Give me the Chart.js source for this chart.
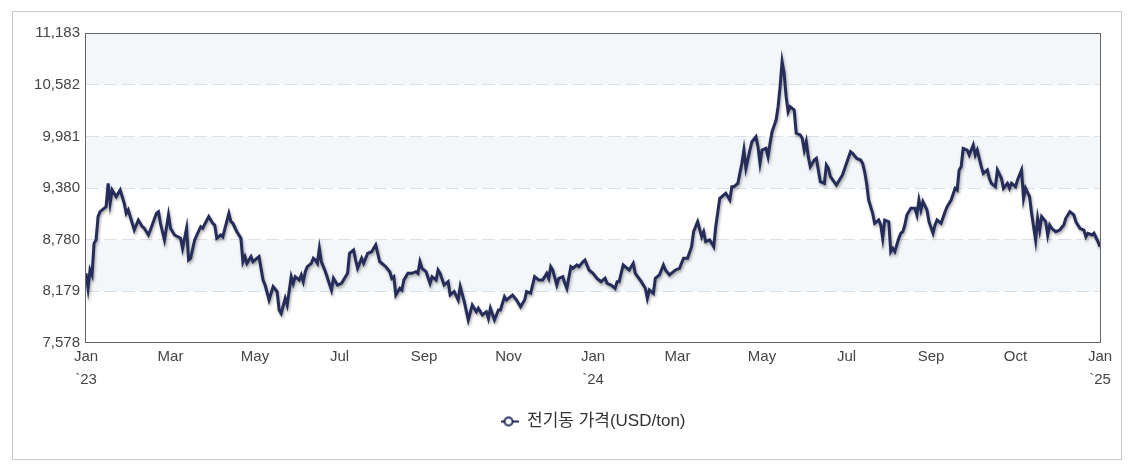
<!DOCTYPE html>
<html>
<head>
<meta charset="utf-8">
<title>전기동 가격</title>
<style>
html, body { margin: 0; padding: 0; background: #fff; }
#wrap { width: 1136px; height: 476px; position: relative; }
</style>
</head>
<body>
<div id="wrap"><canvas id="chart"></canvas></div>
<script src="https://cdn.jsdelivr.net/npm/chart.js@4.4.1/dist/chart.umd.min.js"></script>
<script>
// x labels: one every 42 trading days
const xLabels = [['Jan', '`23'], 'Mar', 'May', 'Jul', 'Sep', 'Nov', ['Jan', '`24'], 'Mar', 'May', 'Jul', 'Sep', 'Oct', ['Jan', '`25']];
const daysPerLabel = 42;
const yTicks = [7578, 8179, 8780, 9380, 9981, 10582, 11183];
const seriesName = '전기동 가격(USD/ton)';

// trading day index and copper price (USD/ton)
const tradingDay = [
  0, 1, 2, 3, 4, 5, 6, 7, 9, 10, 11, 12, 13, 15, 17, 19, 20, 21, 24, 26, 28, 29, 31, 32, 35, 36, 37, 39, 41, 42,
  44, 47, 48, 50, 51, 52, 54, 57, 58, 61, 63, 64, 65, 67, 68, 71, 72, 73, 75, 77, 78, 79, 80, 82, 83, 86, 88, 89, 91, 93,
  95, 96, 97, 99, 100, 102, 103, 104, 106, 107, 108, 109, 110, 112, 113, 114, 115, 116, 117, 119, 122, 123, 125, 127, 128, 130, 131, 133, 134, 135,
  137, 138, 140, 142, 143, 144, 146, 147, 149, 151, 152, 153, 154, 156, 157, 158, 160, 162, 164, 165, 166, 167, 169, 171, 172, 174, 175, 176, 178, 180,
  181, 183, 185, 186, 188, 190, 192, 194, 195, 197, 199, 200, 201, 203, 205, 206, 208, 209, 212, 214, 216, 218, 219, 221, 223, 225, 227, 229, 230, 231,
  232, 234, 235, 237, 238, 239, 241, 242, 244, 245, 247, 248, 250, 252, 254, 256, 258, 259, 261, 263, 264, 265, 267, 268, 270, 272, 273, 276, 278, 279,
  280, 282, 283, 285, 287, 288, 290, 292, 293, 295, 297, 299, 301, 302, 304, 306, 307, 308, 310, 312, 313, 315, 316, 318, 320, 321, 322, 324, 326, 327,
  328, 330, 331, 333, 334, 335, 336, 338, 339, 340, 341, 343, 344, 345, 346, 347, 348, 349, 350, 352, 353, 355, 356, 357, 358, 359, 360, 362, 363, 364,
  365, 367, 368, 369, 370, 373, 375, 376, 378, 380, 381, 383, 385, 386, 387, 388, 389, 391, 392, 394, 395, 396, 397, 399, 400, 401, 402, 404, 405, 406,
  407, 408, 410, 412, 413, 414, 415, 416, 418, 419, 421, 422, 423, 425, 427, 428, 430, 432, 433, 434, 435, 436, 438, 439, 441, 442, 443, 445, 446, 448,
  449, 450, 452, 453, 455, 456, 458, 459, 460, 462, 463, 465, 466, 467, 469, 470, 472, 473, 474, 475, 477, 478, 479, 480, 482, 484, 486, 487, 489, 491,
  492, 494, 496, 497, 498, 500, 501, 503, 504
];
const copperPrice = [
  8388, 8214, 8427, 8369, 8737, 8776, 9047, 9105, 9144, 9163, 9435, 9203, 9357, 9279, 9357, 9203, 9086, 9125, 8892, 9008, 8930, 8912, 8834, 8892, 9086, 9105, 8970, 8776, 9067, 8912,
  8834, 8796, 8679, 8912, 8543, 8563, 8776, 8930, 8912, 9047, 8970, 8950, 8796, 8834, 8814, 9086, 8989, 8970, 8872, 8796, 8523, 8582, 8505, 8582, 8523, 8582, 8311, 8252, 8078, 8233,
  8175, 7962, 7923, 8098, 8020, 8349, 8272, 8349, 8311, 8369, 8291, 8407, 8465, 8505, 8563, 8543, 8505, 8679, 8523, 8407, 8194, 8330, 8252, 8272, 8311, 8388, 8621, 8660, 8543, 8447,
  8563, 8505, 8621, 8640, 8679, 8718, 8523, 8505, 8465, 8407, 8330, 8349, 8136, 8214, 8194, 8311, 8388, 8388, 8407, 8388, 8523, 8447, 8407, 8272, 8349, 8311, 8427, 8388, 8252, 8291,
  8136, 8175, 8078, 8233, 8058, 7846, 8020, 7942, 7982, 7904, 7942, 7865, 7982, 7846, 7962, 7962, 8116, 8078, 8136, 8078, 8000, 8078, 8175, 8156, 8349, 8311, 8311, 8388, 8330, 8465,
  8427, 8252, 8330, 8349, 8272, 8214, 8465, 8447, 8485, 8465, 8523, 8543, 8427, 8388, 8330, 8291, 8330, 8272, 8252, 8214, 8291, 8291, 8485, 8465, 8427, 8505, 8388, 8291, 8214, 8098,
  8194, 8156, 8330, 8369, 8485, 8427, 8369, 8407, 8427, 8447, 8563, 8563, 8698, 8872, 8989, 8814, 8872, 8756, 8776, 8698, 8930, 9261, 9279, 9319, 9241, 9396, 9396, 9435, 9668, 9822,
  9610, 9822, 9919, 9977, 9861, 9668, 9822, 9842, 9745, 9900, 10035, 10171, 10326, 10559, 10849, 10714, 10442, 10268, 10326, 10288, 10017, 9997, 9958, 9822, 9919, 9745, 9628, 9706, 9726, 9590,
  9454, 9435, 9648, 9610, 9512, 9415, 9493, 9532, 9668, 9803, 9784, 9726, 9706, 9668, 9570, 9435, 9241, 9086, 8970, 9008, 8950, 8796, 9008, 8989, 8640, 8679, 8640, 8796, 8854, 8872,
  8950, 9067, 9144, 9144, 9067, 9241, 9125, 9221, 9125, 8989, 8854, 8950, 9008, 8970, 9105, 9163, 9241, 9377, 9357, 9590, 9628, 9842, 9822, 9764, 9881, 9764, 9822, 9628, 9551, 9590,
  9493, 9435, 9396, 9590, 9493, 9377, 9435, 9377, 9435, 9396, 9474, 9590, 9261, 9377, 9279, 9086, 8776, 9028, 8892, 9047, 8989, 8834, 8950, 8912, 8872, 8892, 8950, 9028, 9105, 9067,
  8989, 8912, 8892, 8814, 8854, 8834, 8854, 8756, 8698
];

const lineColor = '#252c5a';
Chart.defaults.font.family = "'Liberation Sans', Arial, 'Noto Sans CJK KR', sans-serif";

// legend icon: short line with a hollow circle
const legendIcon = document.createElement('canvas');
legendIcon.width = 18;
legendIcon.height = 12;
(function () {
  const c = legendIcon.getContext('2d');
  c.strokeStyle = lineColor;
  c.lineWidth = 2;
  c.beginPath();
  c.moveTo(0, 6);
  c.lineTo(18, 6);
  c.stroke();
  c.beginPath();
  c.arc(8, 6, 4, 0, Math.PI * 2);
  c.fillStyle = '#fff';
  c.fill();
  c.stroke();
})();

// alternating light bands behind the grid
const bands = {
  id: 'bands',
  beforeDraw(chart) {
    const { ctx, chartArea: a, scales: { y } } = chart;
    ctx.save();
    ctx.fillStyle = '#f4f7f9';
    for (let i = yTicks.length - 1; i > 0; i -= 2) {
      const top = y.getPixelForValue(yTicks[i]);
      const bottom = y.getPixelForValue(yTicks[i - 1]);
      ctx.fillRect(a.left, top, a.right - a.left, bottom - top);
    }
    ctx.restore();
  }
};

// centre the legend under the plot area instead of the canvas
const legendUnderPlot = {
  id: 'legendUnderPlot',
  afterLayout(chart) {
    if (chart.legend) {
      chart.legend.left = chart.chartArea.left;
      chart.legend.right = chart.chartArea.right;
    }
  }
};

// drop shadow under the line
const lineShadow = {
  id: 'lineShadow',
  beforeDatasetsDraw(chart) {
    const ctx = chart.ctx;
    ctx.save();
    ctx.shadowColor = 'rgba(0, 0, 0, 0.35)';
    ctx.shadowBlur = 3;
    ctx.shadowOffsetX = 1;
    ctx.shadowOffsetY = 2;
  },
  afterDatasetsDraw(chart) {
    chart.ctx.restore();
  }
};

// plot frame and outer box
const frames = {
  id: 'frames',
  afterDraw(chart) {
    const { ctx, chartArea: a } = chart;
    ctx.save();
    ctx.lineWidth = 1;
    ctx.strokeStyle = '#c9c9c9';
    ctx.strokeRect(12.5, 11.5, 1109, 448);
    ctx.strokeStyle = '#666';
    const l = Math.round(a.left) - 0.5, t = Math.round(a.top) + 0.5;
    ctx.strokeRect(l, t, Math.round(a.right) - l + 0.5, Math.round(a.bottom) - t - 0.5);
    ctx.restore();
  }
};

new Chart(document.getElementById('chart'), {
  type: 'line',
  data: {
    datasets: [{
      label: seriesName,
      data: tradingDay.map((d, i) => ({ x: d, y: copperPrice[i] })),
      borderColor: lineColor,
      backgroundColor: '#fff',
      borderWidth: 3,
      pointRadius: 0,
      pointHoverRadius: 0,
      tension: 0,
      fill: false
    }]
  },
  options: {
    responsive: true,
    maintainAspectRatio: false,
    animation: false,
    layout: { padding: { left: 0, top: 33, right: 36, bottom: 36 } },
    scales: {
      x: {
        type: 'linear',
        min: 0,
        max: daysPerLabel * (xLabels.length - 1),
        afterBuildTicks: scale => {
          scale.ticks = xLabels.map((l, i) => ({ value: i * daysPerLabel }));
        },
        afterFit: scale => { scale.height = 50; },
        grid: { display: false, drawTicks: false },
        border: { display: false },
        ticks: {
          autoSkip: false,
          maxRotation: 0,
          padding: 2,
          color: '#444',
          font: { size: 15, lineHeight: 1.55 },
          callback: (v, i) => xLabels[i]
        }
      },
      y: {
        min: yTicks[0],
        max: yTicks[yTicks.length - 1],
        afterBuildTicks: scale => {
          scale.ticks = yTicks.map(v => ({ value: v }));
        },
        afterFit: scale => { scale.width = 86; },
        border: { display: false, dash: [13, 5] },
        grid: {
          drawTicks: false,
          color: ctx => (ctx.index === 0 || ctx.index === yTicks.length - 1) ? 'rgba(0,0,0,0)' : '#d9e0e7',
          lineWidth: 1
        },
        ticks: {
          padding: 6,
          color: '#444',
          font: { size: 15 },
          callback: v => v.toLocaleString('en-US')
        }
      }
    },
    plugins: {
      legend: {
        position: 'bottom',
        labels: {
          usePointStyle: true,
          pointStyle: legendIcon,
          pointStyleWidth: 18,
          boxHeight: 12,
          padding: 20,
          color: '#333',
          font: { size: 17 }
        }
      },
      tooltip: { enabled: false }
    }
  },
  plugins: [bands, legendUnderPlot, lineShadow, frames]
});
</script>
</body>
</html>
